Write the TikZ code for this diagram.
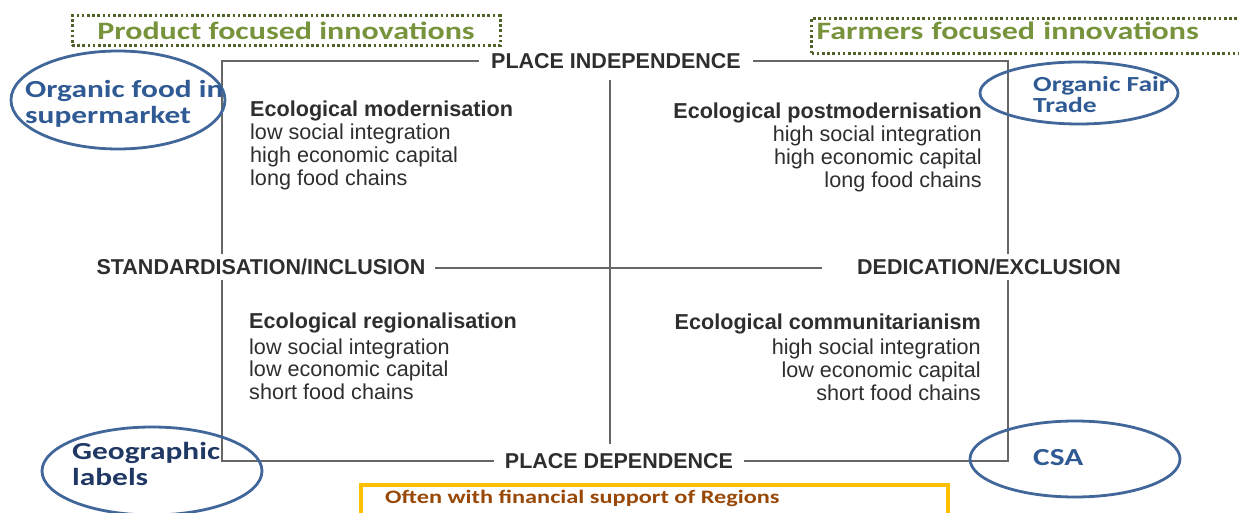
\documentclass[tikz,border=0pt]{standalone}
\usepackage{fontspec}
\setmainfont{Liberation Sans}
\newfontfamily\calibri[FakeStretch=1.28]{Carlito}
\usetikzlibrary{positioning}
\definecolor{ovalblue}{HTML}{41679A}
\definecolor{ovaltext}{HTML}{2F5A94}
\definecolor{darknavy}{HTML}{203864}
\definecolor{olivetext}{HTML}{77933C}
\definecolor{olivedots}{HTML}{4F6228}
\definecolor{amber}{HTML}{FFC000}
\definecolor{rust}{HTML}{984807}
\tikzstyle{axis} = [draw=black!60, line width=1.3pt]
\tikzstyle{pole} = [font=\bfseries\fontsize{21.5}{24}\selectfont, text=black!82, inner sep=5pt]
\tikzstyle{quad} = [font=\fontsize{21.6}{22.8}\selectfont, text=black!82, inner sep=0pt]
\tikzstyle{oval} = [draw=ovalblue, line width=2.8pt]
\tikzstyle{ovallabel} = [font=\calibri\bfseries\fontsize{24.5}{26}\selectfont, text=ovaltext, align=left, inner sep=0pt]
\tikzstyle{greenbox} = [draw=olivedots, line width=3pt, dash pattern=on 2.6pt off 2.6pt, text=olivetext, font=\calibri\bfseries\fontsize{25}{26}\selectfont]

\begin{document}
\begin{tikzpicture}[x=1pt, y=-1pt]
	\useasboundingbox (0,0) rectangle (1239,513);
	% frame labels
	\node[pole, inner xsep=12pt] (indep) at (616,61) {PLACE INDEPENDENCE};
	\node[pole, inner xsep=11pt] (dep) at (619,461) {PLACE DEPENDENCE};
	\node[pole] (stand) at (261,267) {STANDARDISATION/INCLUSION};
	\node[pole] (dedic) at (989,267) {DEDICATION/EXCLUSION};
	\coordinate (tl) at (222,61);
	\coordinate (tr) at (1008,61);
	\coordinate (bl) at (222,461);
	\coordinate (br) at (1008,461);
	\coordinate (ctop) at (610,80);
	\coordinate (cbot) at (610,444);
	\coordinate (hleft) at (435,268);
	\coordinate (hright) at (822,268);
	\draw[axis] (indep.west) -- (tl) -- (stand.north -| tl);
	\draw[axis] (stand.south -| tl) -- (bl) -- (dep.west);
	\draw[axis] (dep.east) -- (br) -- (dedic.south -| br);
	\draw[axis] (dedic.north -| br) -- (tr) -- (indep.east);
	\draw[axis] (ctop) -- (cbot);
	\draw[axis] (hleft) -- (hright);

	% quadrants
	\node[quad, anchor=north west, align=left] (modern) at (250,101) {\textbf{Ecological modernisation}\\low social integration\\high economic capital\\long food chains};
	\node[quad, anchor=north east, align=right] (postmodern) at (982,103) {\textbf{Ecological postmodernisation}\\high social integration\\high economic capital\\long food chains};
	\node[quad, anchor=north west, align=left] (regional) at (249,313) {\textbf{Ecological regionalisation}\\[2.5pt]low social integration\\low economic capital\\short food chains};
	\node[quad, anchor=north east, align=right] (communitarian) at (981,314) {\textbf{Ecological communitarianism}\\[2pt]high social integration\\low economic capital\\short food chains};

	% examples
	\draw[oval] (118,100) ellipse [x radius=107, y radius=49];
	\node[ovallabel, anchor=west] (supermarket) at (25,104) {Organic food in\\supermarket};
	\draw[oval] (1079,93) ellipse [x radius=99, y radius=31];
	\node[ovallabel, anchor=west, font=\calibri\bfseries\fontsize{21.5}{21}\selectfont] (fairtrade) at (1033,95) {Organic Fair\\Trade};
	\draw[oval] (152,471) ellipse [x radius=110, y radius=44];
	\node[ovallabel, anchor=west, text=darknavy] (geographic) at (72,464) {Geographic\\labels};
	\draw[oval] (1075,459) ellipse [x radius=105, y radius=38];
	\node[ovallabel, anchor=west] (csa) at (1033,458) {CSA};

	% innovation focus
	\node[greenbox, minimum width=428, minimum height=30, inner sep=2pt] (product) at (286,31) {Product focused innovations};
	\node[greenbox, anchor=north west, minimum width=450, minimum height=35, text width=440, text depth=11pt, align=left, inner sep=2pt] (farmers) at (810,17) {Farmers focused innovations};

	% regional support
	\node[anchor=west, text=rust, font=\calibri\bfseries\fontsize{19}{20}\selectfont, inner sep=0pt] (regions) at (385,498) {Often with financial support of Regions};
	\draw[amber, line width=3.5pt] (regions.west) ++(-24,30) |- ++(587,-43) -- ++(0,43);
\end{tikzpicture}
\end{document}
